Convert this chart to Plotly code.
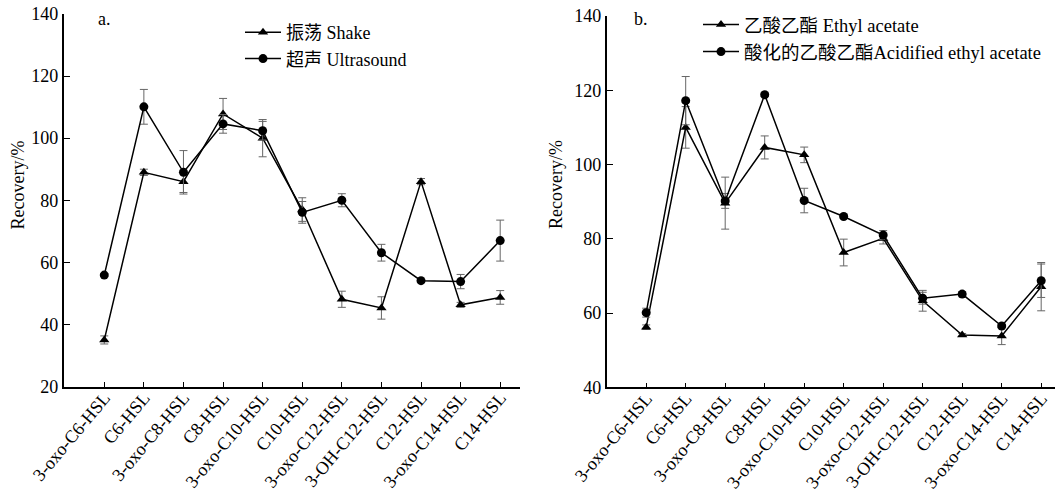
import plotly.graph_objects as go

categories = ["3-oxo-C6-HSL", "C6-HSL", "3-oxo-C8-HSL", "C8-HSL", "3-oxo-C10-HSL",
              "C10-HSL", "3-oxo-C12-HSL", "3-OH-C12-HSL", "C12-HSL", "3-oxo-C14-HSL", "C14-HSL"]

# Panel a
shake = [35.0, 89.0, 86.0, 107.8, 100.0, 77.0, 48.1, 45.3, 86.0, 46.3, 48.7]
shake_err = [1.3, 1.0, 3.5, 5.0, 6.0, 3.8, 2.6, 3.6, 1.0, 0.8, 2.2]
ultra = [55.9, 110.1, 89.0, 104.6, 102.4, 76.1, 80.0, 63.1, 54.1, 53.8, 67.0]
ultra_err = [0.5, 5.6, 7.0, 3.0, 3.0, 3.5, 2.1, 2.7, 0.3, 2.3, 6.6]

# Panel b
ethyl = [56.2, 110.0, 89.6, 104.6, 102.6, 76.3, 80.1, 63.3, 54.1, 53.8, 67.1]
ethyl_err = [0.6, 5.6, 7.0, 3.1, 2.1, 3.6, 1.5, 2.8, 0.4, 2.3, 6.5]
acid = [60.1, 117.2, 90.2, 118.8, 90.3, 86.0, 81.0, 64.0, 65.1, 56.5, 68.7]
acid_err = [1.2, 6.5, 2.0, 0.5, 3.3, 0.4, 1.2, 1.6, 0.7, 0.5, 4.5]

names_a = ["振荡 Shake", "超声 Ultrasound"]
names_b = ["乙酸乙酯 Ethyl acetate", "酸化的乙酸乙酯Acidified ethyl acetate"]

FONT = "Liberation Serif, Times New Roman, Noto Sans CJK SC, serif"
W, H = 1055, 494

def err(a):
    return dict(type="data", array=a, visible=True, color="#666666", thickness=1, width=4)

fig = go.Figure()
x_idx = list(range(len(categories)))

fig.add_trace(go.Scatter(x=x_idx, y=shake, error_y=err(shake_err), name=names_a[0], mode="lines+markers",
                         line=dict(color="black", width=1.5),
                         marker=dict(symbol="triangle-up", size=9, color="black"),
                         xaxis="x", yaxis="y", legend="legend"))
fig.add_trace(go.Scatter(x=x_idx, y=ultra, error_y=err(ultra_err), name=names_a[1], mode="lines+markers",
                         line=dict(color="black", width=1.5),
                         marker=dict(symbol="circle", size=9, color="black"),
                         xaxis="x", yaxis="y", legend="legend"))
fig.add_trace(go.Scatter(x=x_idx, y=ethyl, error_y=err(ethyl_err), name=names_b[0], mode="lines+markers",
                         line=dict(color="black", width=1.5),
                         marker=dict(symbol="triangle-up", size=9, color="black"),
                         xaxis="x2", yaxis="y2", legend="legend2"))
fig.add_trace(go.Scatter(x=x_idx, y=acid, error_y=err(acid_err), name=names_b[1], mode="lines+markers",
                         line=dict(color="black", width=1.5),
                         marker=dict(symbol="circle", size=9, color="black"),
                         xaxis="x2", yaxis="y2", legend="legend2"))

def px(x):
    return x / W

def py(y):
    return 1 - y / H

xcommon = dict(tickmode="array", tickvals=x_idx, ticktext=categories, tickangle=-50,
               ticks="inside", ticklen=5, tickwidth=1.2, tickcolor="black", automargin=False,
               ticklabeloverflow="allow", ticklabelstandoff=-8,
               showline=True, linecolor="black", linewidth=1.5, showgrid=False, zeroline=False,
               tickfont=dict(family=FONT, size=18, color="black"))
ycommon = dict(ticks="inside", ticklen=7, tickwidth=1.2, tickcolor="black", automargin=False,
               ticklabeloverflow="allow",
               showline=True, linecolor="black", linewidth=1.5, showgrid=False, zeroline=False,
               tickfont=dict(family=FONT, size=18, color="black"))

fig.update_layout(
    template="none",
    width=W, height=H,
    margin=dict(l=0, r=0, t=0, b=0, pad=0, autoexpand=False),
    paper_bgcolor="white", plot_bgcolor="white",
    font=dict(family=FONT, size=18, color="black"),
    xaxis=dict(domain=[px(63.5), px(520)], range=[-1.03, 10.5], anchor="y", **xcommon),
    yaxis=dict(domain=[py(386.5), py(14)], range=[20, 140], dtick=20, anchor="x", **ycommon),
    xaxis2=dict(domain=[px(606.7), 1.0], range=[-1.0, 10.35], anchor="y2", **xcommon),
    yaxis2=dict(domain=[py(387.3), py(16)], range=[40, 140], dtick=20, anchor="x2", **ycommon),
    legend=dict(x=px(240), y=py(14), xanchor="left", yanchor="top", bgcolor="rgba(0,0,0,0)",
                itemwidth=36, font=dict(family=FONT, size=18), tracegroupgap=0),
    legend2=dict(x=px(698), y=py(6), xanchor="left", yanchor="top", bgcolor="rgba(0,0,0,0)",
                 itemwidth=36, font=dict(family=FONT, size=18.5), tracegroupgap=0),
    annotations=[
        dict(text="a.", x=px(96), y=py(19), xref="paper", yref="paper", showarrow=False,
             xanchor="left", yanchor="middle", font=dict(family=FONT, size=18)),
        dict(text="b.", x=px(641), y=py(19), xref="paper", yref="paper", showarrow=False,
             xanchor="center", yanchor="middle", font=dict(family=FONT, size=18)),
        dict(text="Recovery/%", x=px(17.5), y=py(185), xref="paper", yref="paper", showarrow=False,
             xanchor="center", yanchor="middle", textangle=-90, font=dict(family=FONT, size=18)),
        dict(text="Recovery/%", x=px(556), y=py(185), xref="paper", yref="paper", showarrow=False,
             xanchor="center", yanchor="middle", textangle=-90, font=dict(family=FONT, size=18)),
    ],
)

fig.write_html("out.html", config={"displayModeBar": False},
               post_script="document.body.style.margin='0';")
